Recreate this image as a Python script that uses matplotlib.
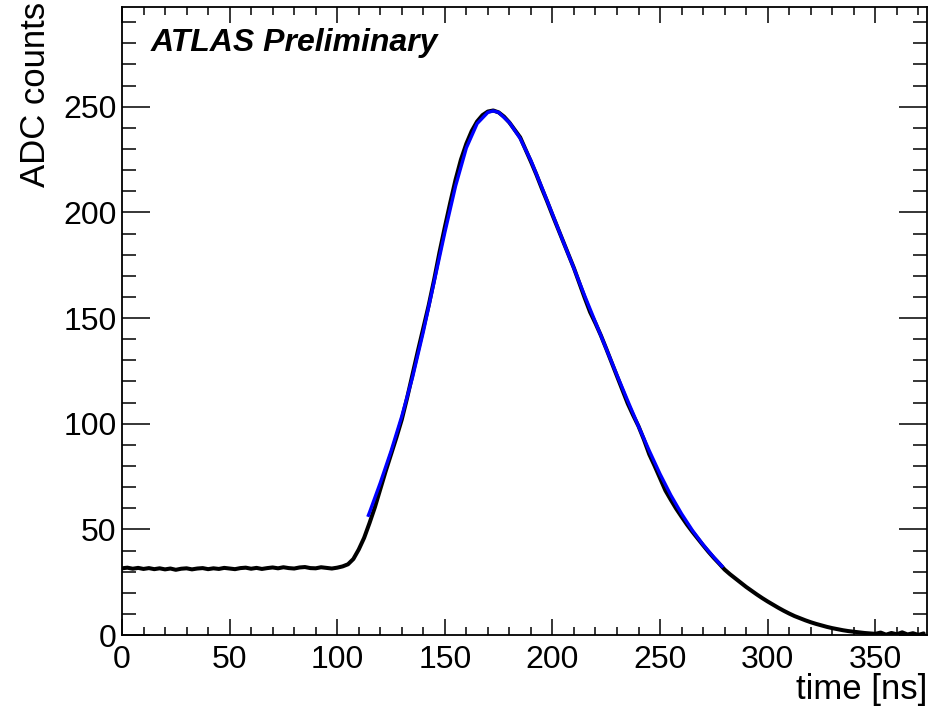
import numpy as np
import matplotlib
matplotlib.use("Agg")
import matplotlib.pyplot as plt
from matplotlib.ticker import MultipleLocator

# ---- data ----
t_step = 2.5
adc_counts = [
    31.6, 31.9, 31.4, 31.8, 31.3, 31.7, 31.2, 31.6, 31.1, 31.5,
    30.9, 31.4, 31.6, 31.1, 31.5, 31.7, 31.2, 31.6, 31.3, 31.8,
    31.5, 31.2, 31.7, 31.9, 31.4, 31.8, 31.3, 31.7, 32.0, 31.6,
    32.1, 31.7, 31.5, 32.0, 32.2, 31.7, 31.6, 32.1, 31.8, 31.5,
    31.9, 32.5, 33.5, 36.0, 40.5, 46.0, 53.0, 60.5, 69.0, 77.5,
    85.5, 93.5, 102.0, 112.3, 123.5, 134.5, 145.3, 156.0, 168.0, 181.0,
    193.0, 204.5, 215.5, 225.0, 232.5, 238.5, 243.0, 246.0, 247.7, 248.2,
    247.3, 245.3, 242.5, 239.0, 235.5, 229.8, 224.0, 218.0, 211.5, 205.3,
    198.8, 192.5, 186.2, 180.0, 173.6, 166.5, 159.5, 152.8, 147.5, 141.8,
    135.5, 129.0, 122.5, 116.0, 109.5, 104.0, 98.8, 92.5, 85.5, 80.0,
    74.2, 68.4, 64.0, 59.8, 56.0, 52.3, 48.9, 45.7, 42.5, 39.4,
    36.5, 33.8, 31.0, 28.8, 26.8, 24.8, 22.8, 21.0, 19.2, 17.5,
    15.9, 14.4, 12.9, 11.5, 10.2, 9.0, 8.0, 7.0, 6.1, 5.3,
    4.6, 3.9, 3.3, 2.8, 2.3, 1.9, 1.6, 1.3, 1.0, 0.8,
    0.6, 1.2, 0.2, 1.0, 0.4, 1.3, 0.3, 0.9, 0.1, 0.8,
]
time_ns = t_step * np.arange(len(adc_counts))

fit_time = [114.5, 115, 120, 125, 130, 135, 140, 145, 150, 155, 160, 165,
            170, 172.5, 175, 180, 185, 190, 195, 200, 205, 210, 215, 220,
            225, 230, 235, 240, 245, 250, 255, 260, 265, 270, 275, 278.8]
fit_adc = [56.7, 58.0, 72.0, 87.0, 103.5, 122.0, 143.5, 167.0, 190.5, 212.5,
           230.5, 242.0, 247.3, 248.0, 247.3, 242.5, 235.0, 224.5, 212.0,
           199.2, 186.2, 173.5, 160.5, 148.0, 135.5, 123.0, 110.8, 98.8,
           87.2, 76.2, 66.2, 57.4, 49.6, 42.8, 36.8, 32.6]

x_range = (0, 374)
y_range = (0, 297)

# ---- figure ----
plt.rcParams['font.family'] = ['Liberation Sans', 'DejaVu Sans']
fig = plt.figure(figsize=(9.42, 7.12), dpi=100)
ax = fig.add_axes([0.1295, 0.108, 0.8545, 0.8817])

ax.plot(time_ns, adc_counts, color='black', lw=2.9, solid_capstyle='round',
        solid_joinstyle='round', zorder=2)
ax.plot(fit_time, fit_adc, color='#0000ff', lw=2.4, solid_joinstyle='round',
        zorder=3)

ax.set_xlim(*x_range)
ax.set_ylim(*y_range)

ax.xaxis.set_major_locator(MultipleLocator(50))
ax.xaxis.set_minor_locator(MultipleLocator(10))
ax.yaxis.set_major_locator(MultipleLocator(50))
ax.yaxis.set_minor_locator(MultipleLocator(10))

ax.tick_params(axis='x', which='major', direction='in', length=11.5, width=1.1,
               top=True, bottom=True, labelsize=23, pad=7)
ax.tick_params(axis='x', which='minor', direction='in', length=5.8, width=1.1,
               top=True, bottom=True)
ax.tick_params(axis='y', which='major', direction='in', length=20, width=1.1,
               left=True, right=True, labelsize=23, pad=4)
ax.tick_params(axis='y', which='minor', direction='in', length=10, width=1.1,
               left=True, right=True)
for s in ax.spines.values():
    s.set_linewidth(1.3)

ax.set_xlabel('time [ns]', fontsize=25, loc='right')
ax.set_ylabel('ADC counts', fontsize=25, loc='top')
ax.xaxis.set_label_coords(1.0, -0.060)
ax.yaxis.set_label_coords(-0.087, 1.008)

ax.text(0.035, 0.967, 'ATLAS Preliminary', transform=ax.transAxes,
        fontsize=23, fontweight='bold', fontstyle='italic', va='top', ha='left')

fig.savefig('out.png', dpi=100)
